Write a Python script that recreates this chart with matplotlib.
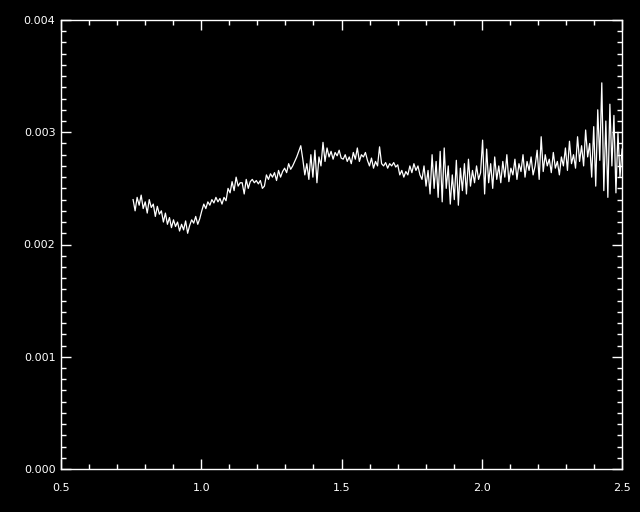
import numpy as np
import matplotlib
matplotlib.use('Agg')
import matplotlib.pyplot as plt
from matplotlib.ticker import MultipleLocator, FormatStrFormatter

seg_a = [2.40, 2.30, 2.42, 2.35, 2.44, 2.32, 2.38, 2.28, 2.40, 2.33,
         2.36, 2.25, 2.34, 2.27, 2.30, 2.20, 2.28, 2.18, 2.24, 2.15,
         2.22, 2.16, 2.20, 2.12, 2.18, 2.13, 2.21, 2.10, 2.17, 2.22,
         2.19, 2.25, 2.18, 2.23]
seg_b = [2.30, 2.36, 2.32, 2.38, 2.35, 2.40, 2.37, 2.42, 2.38, 2.41,
         2.36, 2.42, 2.39, 2.50, 2.46, 2.56, 2.48, 2.60, 2.52, 2.55]
seg_c = [2.55, 2.45, 2.58, 2.50, 2.56, 2.58, 2.55, 2.57, 2.54, 2.57,
         2.50, 2.52, 2.62, 2.58, 2.63, 2.60, 2.64, 2.57, 2.66, 2.60,
         2.65, 2.68, 2.64, 2.72, 2.67, 2.70, 2.74, 2.78, 2.83, 2.88]
seg_d = [2.76, 2.62, 2.72, 2.58, 2.80, 2.60, 2.84, 2.55, 2.78, 2.70,
         2.91, 2.74, 2.86, 2.78, 2.83, 2.76, 2.82, 2.79, 2.84, 2.77]
seg_e = [2.76, 2.80, 2.74, 2.78, 2.72, 2.82, 2.76, 2.86, 2.74, 2.80,
         2.78, 2.82, 2.75, 2.70, 2.77, 2.68, 2.74, 2.70, 2.87, 2.72,
         2.70, 2.73, 2.68, 2.72, 2.70, 2.73, 2.69, 2.71, 2.62, 2.66,
         2.60, 2.65, 2.62, 2.70, 2.64, 2.72, 2.66, 2.70, 2.62]
seg_f = [2.58, 2.70, 2.52, 2.66, 2.45, 2.80, 2.50, 2.74, 2.42, 2.83,
         2.38, 2.86, 2.50, 2.70, 2.36, 2.62, 2.40, 2.75, 2.35, 2.68,
         2.48, 2.72, 2.45, 2.76, 2.52, 2.66, 2.55, 2.70, 2.58, 2.64]
seg_g = [2.93, 2.45, 2.85, 2.55, 2.72, 2.50, 2.78, 2.58, 2.70, 2.55,
         2.74, 2.60, 2.80, 2.56, 2.68, 2.62, 2.76, 2.58, 2.72, 2.65,
         2.80, 2.60, 2.74, 2.66, 2.78, 2.62, 2.70, 2.84, 2.58, 2.96]
seg_h = [2.65, 2.80, 2.70, 2.76, 2.64, 2.82, 2.68, 2.74, 2.62, 2.78,
         2.70, 2.86, 2.66, 2.92, 2.72, 2.80, 2.68, 2.96, 2.74, 2.88,
         2.70, 3.02, 2.78, 2.90]
seg_i = [2.60, 3.05, 2.52, 3.20, 2.75, 3.44, 2.48, 3.10, 2.42, 3.25,
         2.70, 3.15, 2.46, 3.00, 2.60, 2.85]

flux = np.array(seg_a + seg_b + seg_c + seg_d + seg_e + seg_f + seg_g + seg_h + seg_i) * 1e-3
wave = np.linspace(0.757, 2.5, len(flux))

fig = plt.figure(figsize=(6.4, 5.12), dpi=100, facecolor='black')
ax = fig.add_axes([61 / 640, 1 - 469 / 512, 561 / 640, 449 / 512], facecolor='black')
ax.plot(wave, flux, color='white', lw=0.9)

ax.set_xlim(0.5, 2.5)
ax.set_ylim(0, 0.004)
ax.xaxis.set_major_locator(MultipleLocator(0.5))
ax.xaxis.set_minor_locator(MultipleLocator(0.1))
ax.yaxis.set_major_locator(MultipleLocator(0.001))
ax.yaxis.set_minor_locator(MultipleLocator(0.0001))
ax.xaxis.set_major_formatter(FormatStrFormatter('%.1f'))
ax.yaxis.set_major_formatter(FormatStrFormatter('%.3f'))

for s in ax.spines.values():
    s.set_color('white')
    s.set_linewidth(1.0)
ax.tick_params(which='both', direction='in', colors='white', top=True, right=True,
               labelsize=8, width=1.0)
ax.tick_params(which='major', length=7)
ax.tick_params(which='minor', length=3.5)
ax.tick_params(axis='x', which='major', pad=10)
ax.tick_params(axis='y', which='major', pad=4)

fig.savefig('out.png', dpi=100, facecolor='black')
